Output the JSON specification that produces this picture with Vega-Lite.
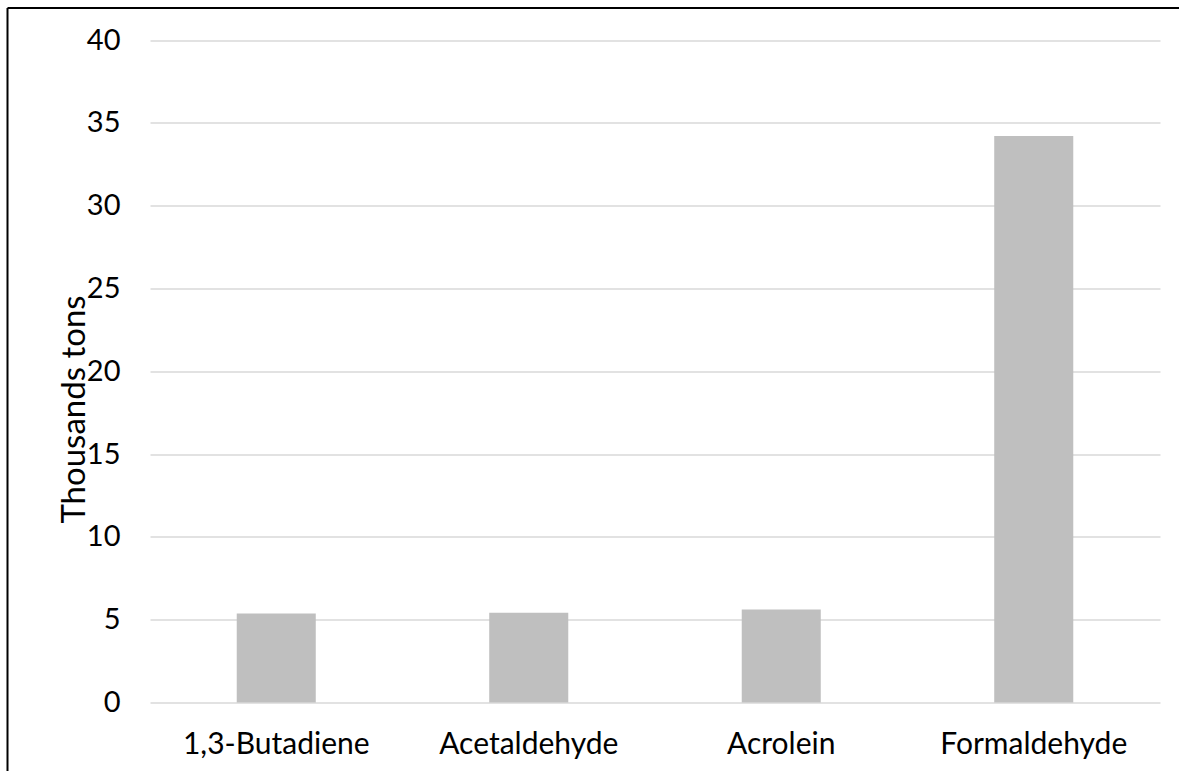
{
  "$schema": "https://vega.github.io/schema/vega-lite/v6.json",
  "autosize": {"type": "none"},
  "padding": {"left": 7, "top": 7.5, "right": 0, "bottom": 0},
  "width": 1172,
  "height": 763.5,
  "background": "white",
  "view": {"stroke": null},
  "data": {
    "values": [
      {"pollutant": "1,3-Butadiene", "tons": 5.38},
      {"pollutant": "Acetaldehyde", "tons": 5.42},
      {"pollutant": "Acrolein", "tons": 5.62},
      {"pollutant": "Formaldehyde", "tons": 34.2}
    ]
  },
  "layer": [
    {
      "mark": {"type": "bar", "color": "#bfbfbf"},
      "encoding": {
        "x": {
          "field": "pollutant",
          "type": "nominal",
          "sort": null,
          "scale": {"range": [143, 1153], "paddingInner": 0.687, "paddingOuter": 0.3435},
          "axis": {
            "title": null,
            "orient": "bottom",
            "offset": -68.5,
            "domain": false,
            "ticks": false,
            "grid": false,
            "labelAngle": 0,
            "labelPadding": 27,
            "labelLimit": 0,
            "labelFont": "Lato",
            "labelFontSize": 30,
            "labelColor": "#000000"
          }
        },
        "y": {
          "field": "tons",
          "type": "quantitative",
          "scale": {"domain": [0, 40], "range": [695, 32.5], "nice": false},
          "axis": {
            "title": "Thousands tons",
            "orient": "left",
            "offset": -143,
            "values": [0, 5, 10, 15, 20, 25, 30, 35, 40],
            "domain": false,
            "ticks": false,
            "grid": true,
            "gridColor": "#d9d9d9",
            "gridWidth": 1.5,
            "labelPadding": 30,
            "labelFont": "Lato",
            "labelFontSize": 29,
            "labelColor": "#000000",
            "titleFont": "Lato",
            "titleFontSize": 33,
            "titleFontWeight": "normal",
            "titleColor": "#000000",
            "titleX": -59,
            "titleY": 401.5
          }
        }
      }
    },
    {
      "mark": {"type": "point", "opacity": 0},
      "encoding": {
        "x": {
          "field": "pollutant",
          "type": "nominal",
          "sort": null,
          "scale": {"range": [0, 1260]},
          "axis": {
            "title": null,
            "orient": "top",
            "labels": false,
            "ticks": false,
            "grid": false,
            "domain": true,
            "domainColor": "#000000",
            "domainWidth": 2
          }
        },
        "y": {
          "field": "tons",
          "type": "quantitative",
          "scale": {"domain": [0, 40], "range": [900, 0], "nice": false},
          "axis": {
            "title": null,
            "orient": "left",
            "labels": false,
            "ticks": false,
            "grid": false,
            "domain": true,
            "domainColor": "#000000",
            "domainWidth": 2
          }
        }
      }
    }
  ],
  "resolve": {
    "scale": {"x": "independent", "y": "independent"},
    "axis": {"x": "independent", "y": "independent"}
  }
}
